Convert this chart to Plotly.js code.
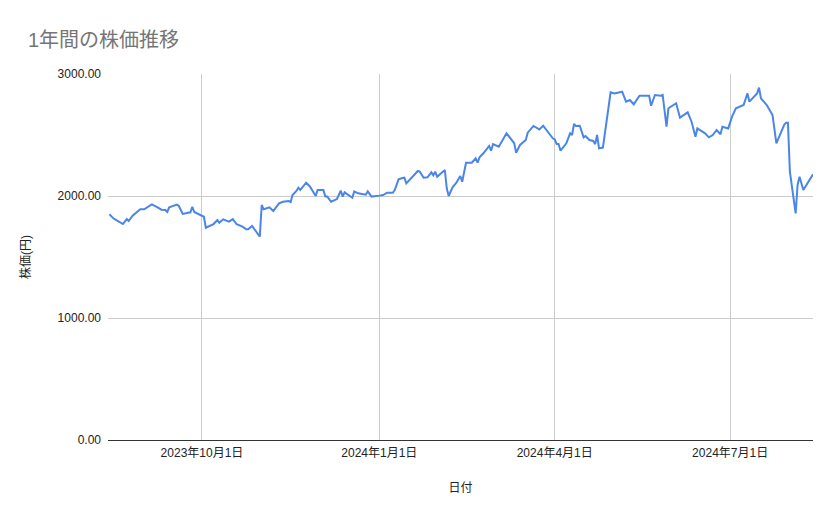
<!DOCTYPE html>
<html>
<head>
<meta charset="utf-8">
<script src="https://cdn.plot.ly/plotly-3.0.1.min.js"></script>
<style>html,body{margin:0;padding:0;background:#fff;}#chart{width:839px;height:519px;}</style>
</head>
<body>
<div id="chart"></div>
<script>
const dates = [
"2023-08-14","2023-08-16","2023-08-18","2023-08-21","2023-08-23","2023-08-24","2023-08-26","2023-08-30",
"2023-09-01","2023-09-03","2023-09-05","2023-09-08","2023-09-10","2023-09-12","2023-09-13","2023-09-14",
"2023-09-18","2023-09-19","2023-09-21","2023-09-25","2023-09-26","2023-09-27","2023-09-30",
"2023-10-02","2023-10-03","2023-10-05","2023-10-07","2023-10-09","2023-10-10","2023-10-12","2023-10-15",
"2023-10-17","2023-10-19","2023-10-22","2023-10-24","2023-10-25","2023-10-27","2023-10-31",
"2023-11-01","2023-11-02","2023-11-05","2023-11-07","2023-11-10","2023-11-12","2023-11-14","2023-11-15",
"2023-11-16","2023-11-17","2023-11-19","2023-11-20","2023-11-21","2023-11-24","2023-11-26","2023-11-29",
"2023-11-30","2023-12-03","2023-12-04","2023-12-05","2023-12-07","2023-12-10","2023-12-11","2023-12-12",
"2023-12-13","2023-12-14","2023-12-18","2023-12-19","2023-12-21","2023-12-24","2023-12-25","2023-12-26",
"2023-12-28","2024-01-01","2024-01-03","2024-01-05","2024-01-08","2024-01-09","2024-01-11","2024-01-13",
"2024-01-14","2024-01-15","2024-01-18","2024-01-21","2024-01-22","2024-01-24","2024-01-26","2024-01-28",
"2024-01-29","2024-01-30","2024-01-31","2024-02-04","2024-02-05","2024-02-06","2024-02-08","2024-02-10",
"2024-02-12","2024-02-13","2024-02-15","2024-02-18","2024-02-20","2024-02-21","2024-02-22","2024-02-24",
"2024-02-27","2024-02-28","2024-02-29","2024-03-03","2024-03-07","2024-03-11","2024-03-12","2024-03-14",
"2024-03-17","2024-03-18","2024-03-21","2024-03-24","2024-03-26","2024-03-28","2024-03-31","2024-04-01",
"2024-04-02","2024-04-03","2024-04-04","2024-04-06","2024-04-07","2024-04-09","2024-04-10","2024-04-11",
"2024-04-12","2024-04-14","2024-04-16","2024-04-17","2024-04-19","2024-04-21","2024-04-22","2024-04-23",
"2024-04-24","2024-04-26","2024-04-30","2024-05-02","2024-05-06","2024-05-08","2024-05-10","2024-05-12",
"2024-05-15","2024-05-20","2024-05-21","2024-05-23","2024-05-26","2024-05-27","2024-05-29","2024-05-30",
"2024-06-02","2024-06-03","2024-06-05","2024-06-09","2024-06-11","2024-06-13","2024-06-14","2024-06-18",
"2024-06-20","2024-06-22","2024-06-24","2024-06-26","2024-06-27","2024-06-30","2024-07-02","2024-07-04",
"2024-07-08","2024-07-10","2024-07-11","2024-07-15","2024-07-16","2024-07-17","2024-07-20","2024-07-23",
"2024-07-25","2024-07-29","2024-07-30","2024-07-31","2024-08-01","2024-08-04","2024-08-05","2024-08-06",
"2024-08-08","2024-08-13"
];
const prices = [
1850,1817,1798,1770,1811,1795,1839,1891,
1891,1912,1932,1907,1888,1885,1869,1907,
1929,1918,1853,1866,1912,1869,1844,
1830,1740,1757,1770,1803,1781,1809,1790,
1811,1768,1749,1727,1727,1754,1667,
1926,1891,1907,1877,1940,1953,1953,1959,
1951,2008,2041,2068,2049,2109,2078,2000,
2049,2049,1995,1995,1953,1975,2008,2044,
1995,2030,1986,2038,2022,2014,2011,2038,
1995,2003,2008,2027,2027,2049,2137,2148,
2150,2104,2156,2205,2200,2150,2153,2194,
2170,2200,2158,2213,2063,2000,2071,2109,
2164,2117,2273,2273,2309,2273,2317,2350,
2410,2371,2426,2404,2514,2432,2355,2418,
2459,2519,2574,2546,2576,2533,2473,2465,
2426,2426,2371,2410,2432,2514,2500,2590,
2574,2576,2481,2492,2459,2451,2425,2500,
2391,2397,2850,2841,2855,2773,2787,2752,
2822,2822,2740,2828,2822,2828,2568,2719,
2746,2760,2642,2686,2609,2486,2554,2514,
2481,2500,2541,2506,2568,2554,2650,2719,
2746,2841,2773,2841,2888,2800,2746,2664,
2432,2582,2601,2601,2199,1858,2090,2158,
2049,2178
];
const xTickVals = ["2023-10-01","2024-01-01","2024-04-01","2024-07-01"];
const xTickText = ["2023年10月1日","2024年1月1日","2024年4月1日","2024年7月1日"];
const yTickVals = [0,1000,2000,3000];
const yTickText = ["0.00","1000.00","2000.00","3000.00"];

const font = "Arial, 'Liberation Sans', 'Noto Sans CJK JP', sans-serif";

Plotly.newPlot("chart", [{
  x: dates, y: prices, type: "scatter", mode: "lines",
  line: {color: "#4a86e8", width: 2}, hoverinfo: "x+y"
}], {
  width: 839, height: 519,
  margin: {l: 108, r: 26, t: 74, b: 79},
  paper_bgcolor: "#fff", plot_bgcolor: "#fff",
  showlegend: false,
  font: {family: font, size: 12, color: "#222"},
  title: {text: "1年間の株価推移", x: 28/839, xanchor: "left", y: 1 - 40/519, yanchor: "middle",
          xref: "container", yref: "container", font: {family: font, size: 20, color: "#757575"}},
  xaxis: {
    type: "date", range: ["2023-08-13 06:00", "2024-08-13"],
    tickvals: xTickVals, ticktext: xTickText,
    showgrid: true, gridcolor: "#cccccc", gridwidth: 1,
    ticks: "", showline: false, zeroline: false, ticklabelstandoff: 4,
    tickfont: {family: font, size: 12, color: "#222"},
    title: {text: "日付", font: {family: font, size: 12, color: "#222"}, standoff: 24}
  },
  yaxis: {
    range: [0, 3000], tickvals: yTickVals, ticktext: yTickText,
    showgrid: true, gridcolor: "#cccccc", gridwidth: 1,
    zeroline: true, zerolinecolor: "#333333", zerolinewidth: 1,
    ticks: "", showline: false, ticklabelstandoff: 6,
    tickfont: {family: font, size: 12, color: "#222"},
    title: {text: "株価(円)", font: {family: font, size: 12, color: "#222"}, standoff: 24}
  }
}, {displayModeBar: false, staticPlot: true});
</script>
</body>
</html>
